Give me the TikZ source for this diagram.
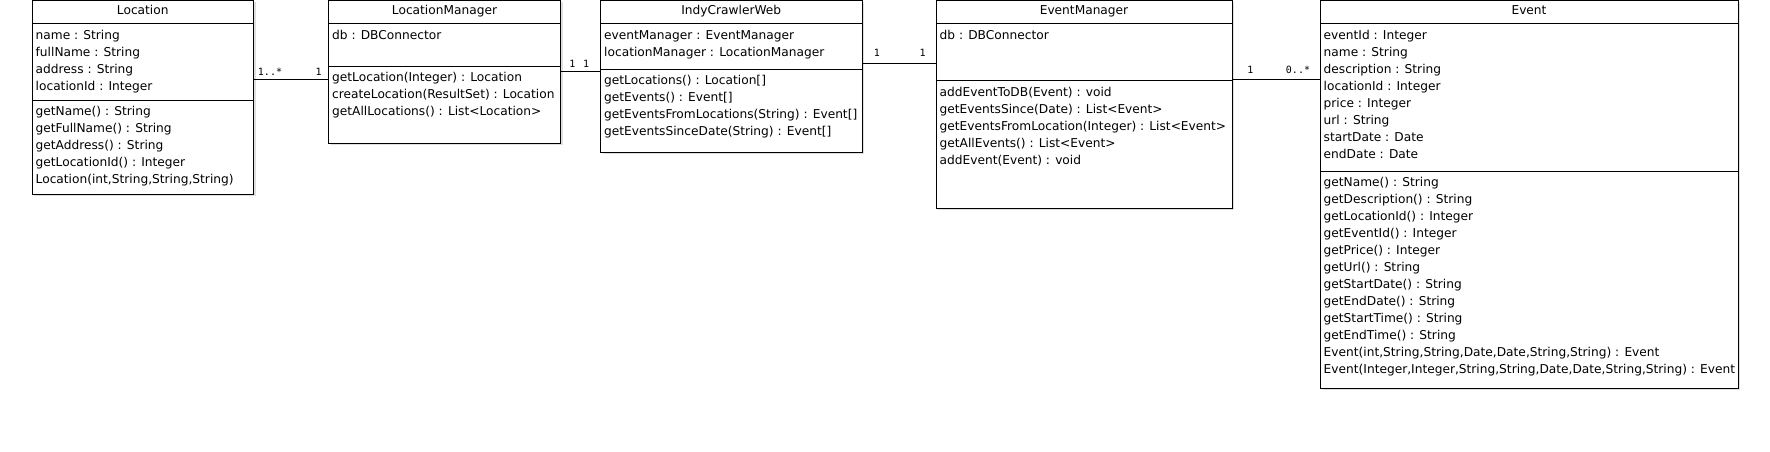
\documentclass[tikz,border=0pt]{standalone}
\usepackage{fontspec}
\setmainfont{DejaVu Sans}
\newfontfamily\multfont{DejaVu Sans Mono}
\usetikzlibrary{positioning}
\usetikzlibrary{shadows}
\newcommand{\umlfont}{\fontsize{12.2}{17}\selectfont}
\tikzstyle{classbox} = [rectangle, draw, fill=white, anchor=north west, outer sep=0pt,
    line width=1pt, drop shadow={shadow xshift=2pt, shadow yshift=-2pt, opacity=.25}]
\tikzstyle{classname} = [anchor=base, inner sep=0pt, font=\umlfont]
\tikzstyle{members} = [anchor=north west, align=left, inner xsep=3.5pt, inner ysep=3pt, font=\umlfont]
\tikzstyle{divider} = [draw, line width=1pt]
\tikzstyle{assoc} = [draw, line width=1pt, -]
\tikzstyle{mult} = [font=\multfont\fontsize{10}{12}\selectfont, inner sep=1pt, above=3pt]

\begin{document}
\begin{tikzpicture}[x=1pt, y=-1pt]
  \useasboundingbox (0,0) rectangle (1770,452);

  % Location
  \node [classbox, minimum width=221.5pt, minimum height=193.5pt] (loc) at (32,0.5) {};
  \node [classname] (locT) at ([yshift=-14pt]loc.north) {Location};
  \draw [divider] ([yshift=-23.5pt]loc.north west) -- ([yshift=-23.5pt]loc.north east);
  \draw [divider] ([yshift=-100pt]loc.north west) -- ([yshift=-100pt]loc.north east);
  \node [members] (locA) at ([yshift=-23.5pt]loc.north west)
    {\strut name : String\\ fullName : String\\ address : String\\ locationId : Integer};
  \node [members] (locM) at ([yshift=-100pt]loc.north west)
    {\strut getName() : String\\ getFullName() : String\\ getAddress() : String\\
     getLocationId() : Integer\\ Location(int,String,String,String)};

  % LocationManager
  \node [classbox, minimum width=232pt, minimum height=142.5pt] (lm) at (328.5,0.5) {};
  \node [classname] (lmT) at ([yshift=-14pt]lm.north) {LocationManager};
  \draw [divider] ([yshift=-23.5pt]lm.north west) -- ([yshift=-23.5pt]lm.north east);
  \draw [divider] ([yshift=-66pt]lm.north west) -- ([yshift=-66pt]lm.north east);
  \node [members] (lmA) at ([yshift=-23.5pt]lm.north west) {\strut db : DBConnector};
  \node [members] (lmM) at ([yshift=-66pt]lm.north west)
    {\strut getLocation(Integer) : Location\\ createLocation(ResultSet) : Location\\
     getAllLocations() : List<Location>};

  % IndyCrawlerWeb
  \node [classbox, minimum width=261.5pt, minimum height=151.5pt] (icw) at (600.5,0.5) {};
  \node [classname] (icwT) at ([yshift=-14pt]icw.north) {IndyCrawlerWeb};
  \draw [divider] ([yshift=-23.5pt]icw.north west) -- ([yshift=-23.5pt]icw.north east);
  \draw [divider] ([yshift=-69pt]icw.north west) -- ([yshift=-69pt]icw.north east);
  \node [members] (icwA) at ([yshift=-23.5pt]icw.north west)
    {\strut eventManager : EventManager\\ locationManager : LocationManager};
  \node [members] (icwM) at ([yshift=-69pt]icw.north west)
    {\strut getLocations() : Location[]\\ getEvents() : Event[]\\
     getEventsFromLocations(String) : Event[]\\ getEventsSinceDate(String) : Event[]};

  % EventManager
  \node [classbox, minimum width=296pt, minimum height=207.5pt] (em) at (936,0.5) {};
  \node [classname] (emT) at ([yshift=-14pt]em.north) {EventManager};
  \draw [divider] ([yshift=-23.5pt]em.north west) -- ([yshift=-23.5pt]em.north east);
  \draw [divider] ([yshift=-80.5pt]em.north west) -- ([yshift=-80.5pt]em.north east);
  \node [members] (emA) at ([yshift=-23.5pt]em.north west) {\strut db : DBConnector};
  \node [members] (emM) at ([yshift=-80.5pt]em.north west)
    {\strut addEventToDB(Event) : void\\ getEventsSince(Date) : List<Event>\\
     getEventsFromLocation(Integer) : List<Event>\\ getAllEvents() : List<Event>\\
     addEvent(Event) : void};

  % Event
  \node [classbox, minimum width=418pt, minimum height=387.5pt] (ev) at (1320,0.5) {};
  \node [classname] (evT) at ([yshift=-14pt]ev.north) {Event};
  \draw [divider] ([yshift=-23.5pt]ev.north west) -- ([yshift=-23.5pt]ev.north east);
  \draw [divider] ([yshift=-170.5pt]ev.north west) -- ([yshift=-170.5pt]ev.north east);
  \node [members] (evA) at ([yshift=-23.5pt]ev.north west)
    {\strut eventId : Integer\\ name : String\\ description : String\\ locationId : Integer\\
     price : Integer\\ url : String\\ startDate : Date\\ endDate : Date};
  \node [members] (evM) at ([yshift=-170.5pt]ev.north west)
    {\strut getName() : String\\ getDescription() : String\\ getLocationId() : Integer\\
     getEventId() : Integer\\ getPrice() : Integer\\ getUrl() : String\\
     getStartDate() : String\\ getEndDate() : String\\ getStartTime() : String\\
     getEndTime() : String\\ Event(int,String,String,Date,Date,String,String) : Event\\
     Event(Integer,Integer,String,String,Date,Date,String,String) : Event};

  % Associations
  \coordinate (c1) at (0,80);
  \coordinate (c2) at (0,72);
  \coordinate (c3) at (0,64);
  \coordinate (c4) at (0,80);
  \path [assoc] (loc.east |- c1) -- node [mult, pos=.22] {1..*} node [mult, pos=.87] {1} (lm.west |- c1);
  \path [assoc] (lm.east |- c2) -- node [mult, pos=.3] {1} node [mult, pos=.64] {1} (icw.west |- c2);
  \path [assoc] (icw.east |- c3) -- node [mult, pos=.2, yshift=3pt] {1}
    node [mult, pos=.82, yshift=3pt] {1} (em.west |- c3);
  \path [assoc] (em.east |- c4) -- node [mult, pos=.21, yshift=1.5pt] {1}
    node [mult, pos=.75, yshift=1.5pt] {0..*} (ev.west |- c4);

\end{tikzpicture}
\end{document}
